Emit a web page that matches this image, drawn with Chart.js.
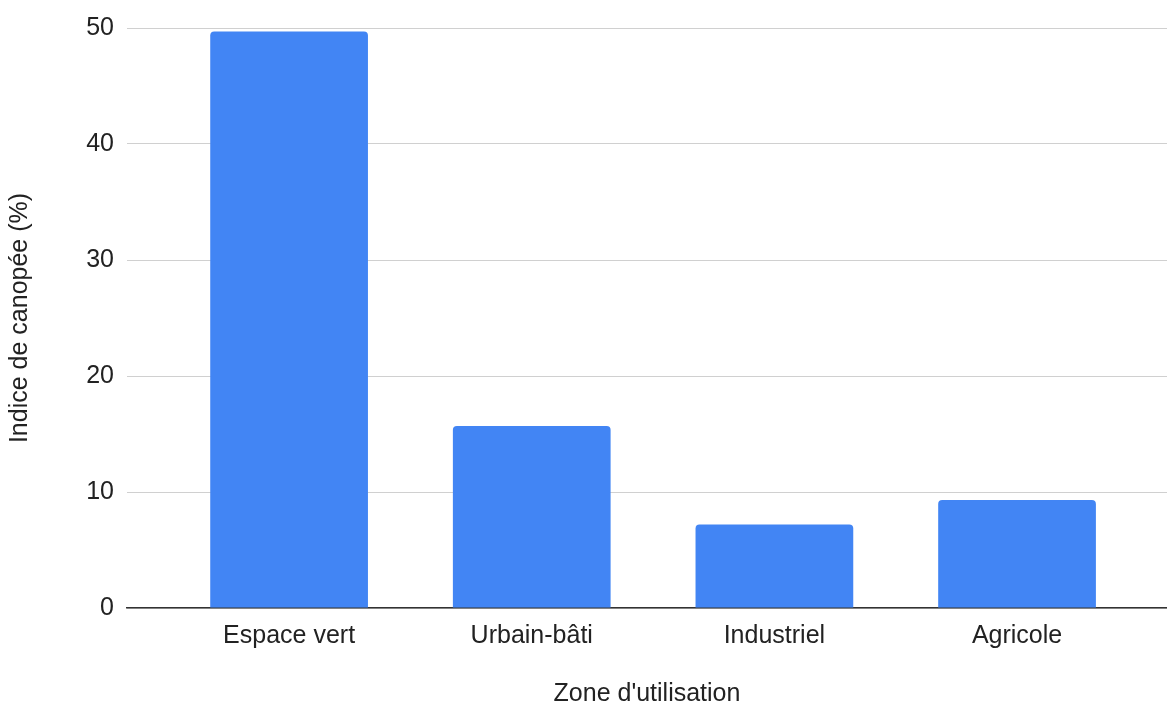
<!DOCTYPE html>
<html>
<head>
<meta charset="utf-8">
<script src="https://cdn.jsdelivr.net/npm/chart.js@4"></script>
<style>
  html, body { margin: 0; padding: 0; background: #fff; }
  #wrap { width: 1167px; height: 704px; }
</style>
</head>
<body>
<div id="wrap"><canvas id="chart" width="1167" height="704"></canvas></div>
<script>
// données
const categories = ["Espace vert", "Urbain-bâti", "Industriel", "Agricole"];
const canopyValues = [49.7, 15.7, 7.2, 9.3];
const yTicks = [0, 10, 20, 30, 40, 50];

const font = { family: "Arial, 'Liberation Sans', sans-serif", size: 25 };

new Chart(document.getElementById("chart"), {
  type: "bar",
  data: {
    datasets: [
      {
        data: canopyValues.map((v, i) => ({ x: i, y: v })),
        backgroundColor: "#4285f4",
        borderRadius: 4,
        barPercentage: 0.65,
        categoryPercentage: 1,
      },
    ],
  },
  options: {
    responsive: false,
    animation: false,
    layout: { padding: { top: 27, left: 0, right: 0, bottom: 0 } },
    plugins: { legend: { display: false }, tooltip: { enabled: false } },
    scales: {
      x: {
        type: "linear",
        offset: false,
        min: -0.668,
        max: 3.618,
        grid: { display: false },
        border: { color: "#333", width: 1.5 },
        afterBuildTicks: (scale) => {
          scale.ticks = categories.map((c, i) => ({ value: i }));
        },
        afterFit: (scale) => {
          scale.height = 96;
        },
        ticks: {
          autoSkip: false,
          maxRotation: 0,
          padding: 5,
          color: "#222",
          font: font,
          callback: (value) => categories[value],
        },
        title: {
          display: true,
          text: "Zone d'utilisation",
          color: "#222",
          font: { ...font, lineHeight: 1 },
          padding: { top: 0, bottom: -3 },
        },
      },
      y: {
        min: 0,
        max: 50,
        afterBuildTicks: (scale) => {
          scale.ticks = yTicks.map((v) => ({ value: v }));
        },
        afterFit: (scale) => {
          scale.width = 127;
        },
        grid: { color: "#d0d0d0", drawTicks: false },
        border: { display: false },
        ticks: { padding: 13, color: "#222", font: font },
        title: {
          display: true,
          text: "Indice de canopée (%)",
          color: "#222",
          font: { ...font, lineHeight: 1 },
          padding: { top: 8, bottom: 0 },
        },
      },
    },
  },
});
</script>
</body>
</html>
